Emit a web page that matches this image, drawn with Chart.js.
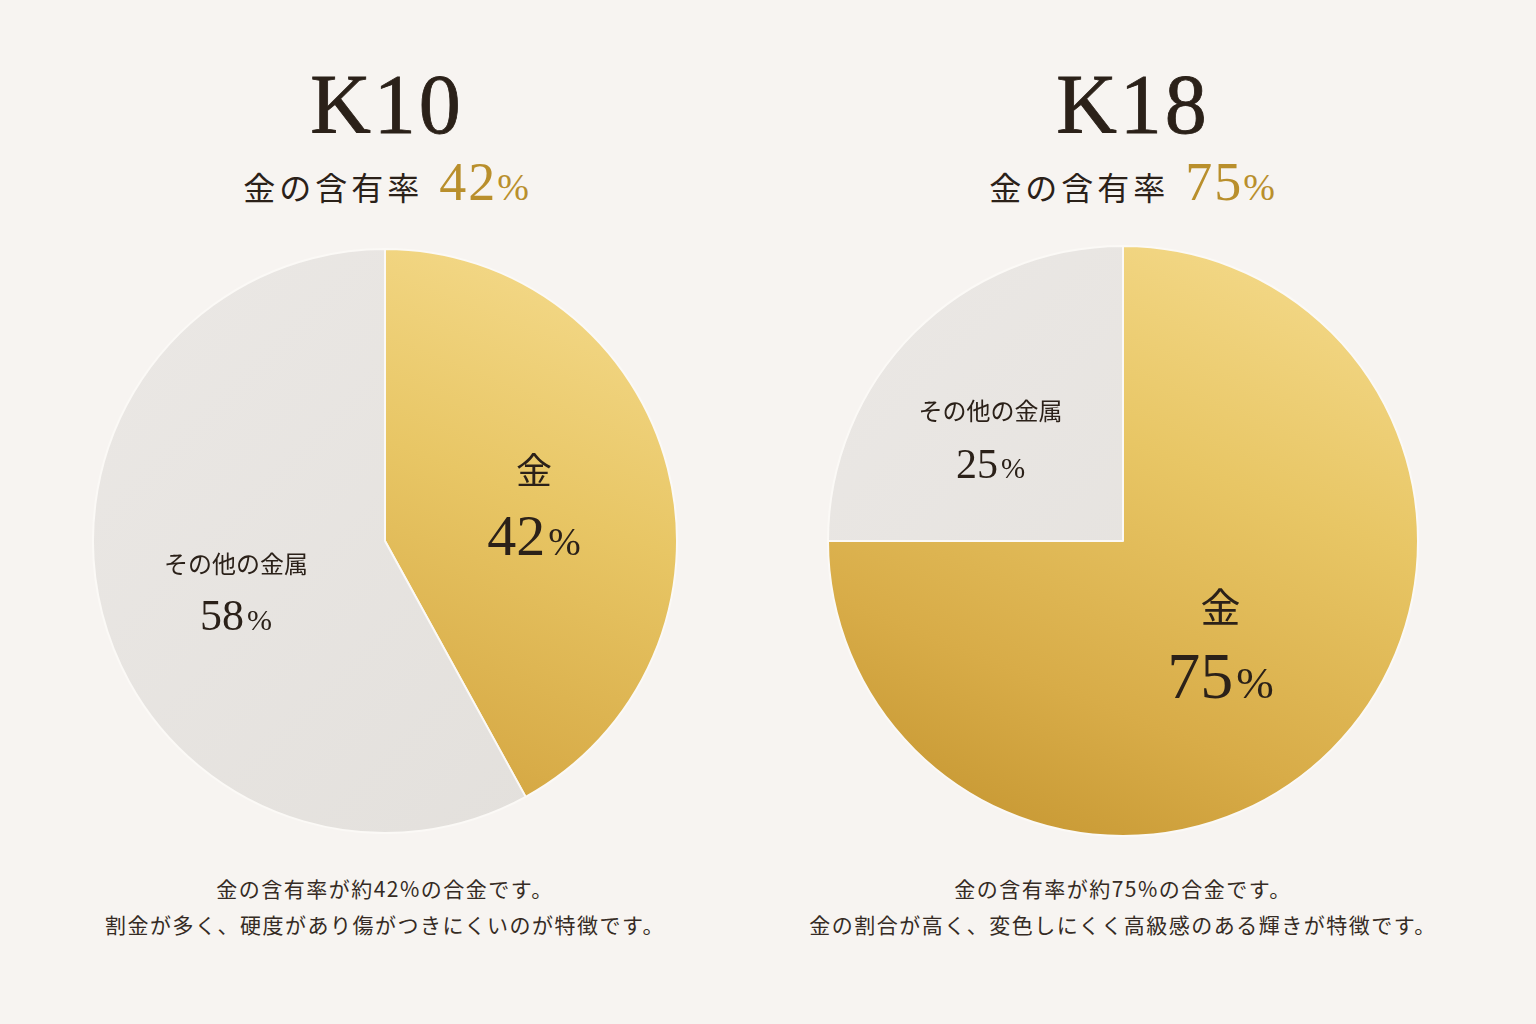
<!DOCTYPE html>
<html lang="ja">
<head>
<meta charset="utf-8">
<script src="https://cdn.jsdelivr.net/npm/chart.js@4.4.0/dist/chart.umd.min.js"></script>
<style>
    body { margin: 0; background: #f7f4f1; }
    #page { position: relative; width: 1536px; height: 1024px; overflow: hidden; background: #f7f4f1; }
    .title { position: absolute; width: 600px; text-align: center; color: #2b2119;
             font-family: "Liberation Serif", "DejaVu Serif", serif; font-size: 84px; letter-spacing: 3px; line-height: 1;
             -webkit-text-stroke: 0.8px #2b2119; }
    .sub { position: absolute; width: 600px; text-align: center; color: #2b2119;
           font-family: "Noto Sans CJK JP", sans-serif; font-size: 32px; letter-spacing: 4px; line-height: 1; }
    .sub .pct { color: #b98f2c; font-family: "Liberation Serif", serif; font-size: 54px; letter-spacing: 2px; margin-left: 16px; }
    .sub .pct small { font-size: 38px; }
    .desc { position: absolute; width: 760px; text-align: center; color: #352b24;
            font-family: "Noto Sans CJK JP", sans-serif; font-size: 21px; letter-spacing: 1.5px; line-height: 36px; }
    canvas { position: absolute; }
</style>
</head>
<body>
<div id="page">
    <div class="title" id="t0" style="left:87px; top:63px;"></div>
    <div class="sub" id="s0" style="left:87px; top:155px;"></div>
    <div class="title" id="t1" style="left:833px; top:63px;"></div>
    <div class="sub" id="s1" style="left:833px; top:155px;"></div>

    <canvas id="pieK10" width="586" height="586" style="left:92px; top:248px;"></canvas>
    <canvas id="pieK18" width="592" height="592" style="left:827px; top:245px;"></canvas>

    <div class="desc" id="d0" style="left:5px; top:870px;"></div>
    <div class="desc" id="d1" style="left:743px; top:870px;"></div>
</div>

<script>
// データ
const alloys = ["K10", "K18"];
const sliceLabels = ["金", "その他の金属"];
const k10Values = [42, 58];
const k18Values = [75, 25];
const subtitle = "金の含有率";
const descriptions = [
    ["金の含有率が約42%の合金です。", "割金が多く、硬度があり傷がつきにくいのが特徴です。"],
    ["金の含有率が約75%の合金です。", "金の割合が高く、変色しにくく高級感のある輝きが特徴です。"]
];

// 見出しと説明文
[k10Values, k18Values].forEach((vals, i) => {
    document.getElementById("t" + i).textContent = alloys[i];
    document.getElementById("s" + i).innerHTML =
        subtitle + '<span class="pct">' + vals[0] + "<small>%</small></span>";
    document.getElementById("d" + i).innerHTML = descriptions[i].join("<br>");
});

// 扇形の塗り（0 = 金のグラデーション, 1 = 灰色）
function sliceFill(context) {
    const chart = context.chart;
    const area = chart.chartArea;
    const gold = context.dataIndex === 0;
    if (!area) return gold ? "#deb653" : "#e7e4e0";
    let g;
    if (gold) {
        g = chart.ctx.createLinearGradient(area.right - area.width * 0.3, area.top, area.left + area.width * 0.3, area.bottom);
        g.addColorStop(0, "#f3d887");
        g.addColorStop(0.35, "#e8c665");
        g.addColorStop(0.75, "#d8ac48");
        g.addColorStop(1, "#c89934");
    } else {
        g = chart.ctx.createLinearGradient(area.left, area.top, area.right, area.bottom);
        g.addColorStop(0, "#ebe8e5");
        g.addColorStop(1, "#e2dfdb");
    }
    return g;
}

// 扇形の中にラベルを描く
const sliceText = {
    id: "sliceText",
    afterDatasetsDraw(chart, args, opts) {
        const ctx = chart.ctx;
        const meta = chart.getDatasetMeta(0);
        const values = chart.data.datasets[0].data;
        meta.data.forEach((arc, i) => {
            const s = opts.sizes[i];
            const mid = (arc.startAngle + arc.endAngle) / 2;
            const r = arc.outerRadius * opts.ratio;
            const cx = arc.x + Math.cos(mid) * r + (s.dx || 0);
            const cy = arc.y + Math.sin(mid) * r + (s.dy || 0);

            ctx.save();
            ctx.fillStyle = "#2b2119";
            ctx.textAlign = "center";
            ctx.textBaseline = "middle";
            ctx.font = s.name + 'px "Noto Sans CJK JP", sans-serif';
            ctx.fillText(chart.data.labels[i], cx, cy - s.gap);

            // 数字と小さめの%
            const num = String(values[i]);
            const big = s.value + 'px "Liberation Serif", serif';
            const small = Math.round(s.value * 0.68) + 'px "Liberation Serif", serif';
            ctx.font = big;
            const wNum = ctx.measureText(num).width;
            ctx.font = small;
            const wPct = ctx.measureText("%").width;
            const x0 = cx - (wNum + wPct + 3) / 2;
            const base = cy + s.gap + s.value * 0.33;
            ctx.textAlign = "left";
            ctx.textBaseline = "alphabetic";
            ctx.font = big;
            ctx.fillText(num, x0, base);
            ctx.font = small;
            ctx.fillText("%", x0 + wNum + 3, base);
            ctx.restore();
        });
    }
};

function crearPie(id, values, sizes) {
    const ctx = document.getElementById(id).getContext("2d");
    return new Chart(ctx, {
        type: "pie",
        data: {
            labels: sliceLabels,
            datasets: [{
                data: values,
                backgroundColor: sliceFill,
                borderColor: "#fbf9f6",
                borderWidth: 2
            }]
        },
        options: {
            responsive: false,
            animation: false,
            events: [],
            layout: { padding: 0 },
            plugins: {
                legend: { display: false },
                tooltip: { enabled: false },
                sliceText: { ratio: 0.52, sizes: sizes }
            }
        },
        plugins: [sliceText]
    });
}

crearPie("pieK10", k10Values, [
    { name: 36, value: 58, gap: 33, dx: 2, dy: 0 },
    { name: 24, value: 44, gap: 26, dx: -2, dy: 11 }
]);
crearPie("pieK18", k18Values, [
    { name: 40, value: 66, gap: 35, dx: -11, dy: -8 },
    { name: 24, value: 42, gap: 27, dx: -24, dy: 5 }
]);
</script>
</body>
</html>
